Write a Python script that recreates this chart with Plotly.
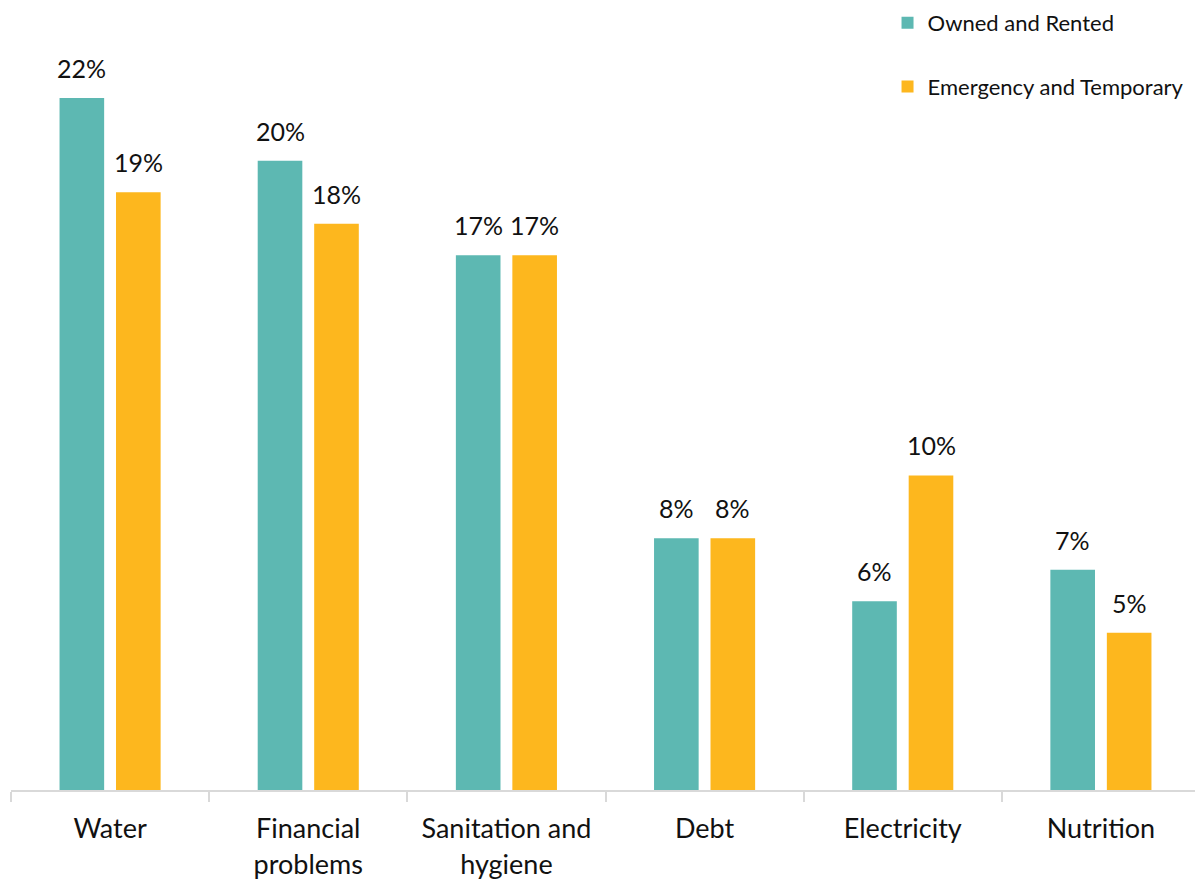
import plotly.graph_objects as go

categories = ["Water", "Financial<br>problems", "Sanitation and<br>hygiene", "Debt", "Electricity", "Nutrition"]
owned_rented = [22, 20, 17, 8, 6, 7]
emergency_temporary = [19, 18, 17, 8, 10, 5]
series_names = ["Owned and Rented", "Emergency and Temporary"]
colors = ["#5DB8B2", "#FDB71E"]

FONT = "Lato"
fig = go.Figure()
for name, vals, col, grp in zip(series_names, [owned_rented, emergency_temporary], colors, ["a", "b"]):
    fig.add_trace(go.Bar(x=categories, y=vals, name=name, marker_color=col,
                         marker_line_width=0, legendgroup=grp))

annotations = []
for vals, shift in [(owned_rented, -28.25), (emergency_temporary, 28.25)]:
    for c, v in zip(categories, vals):
        annotations.append(dict(x=c, y=v, text=f"{v}%", showarrow=False, xref="x", yref="y",
                                xshift=shift, yanchor="bottom", yshift=13,
                                font=dict(family=FONT, size=25, color="#111111")))

fig.update_layout(
    width=1195, height=878,
    margin=dict(l=3, r=3, t=27, b=96, autoexpand=False),
    paper_bgcolor="white", plot_bgcolor="white",
    barmode="group", bargap=0.43, bargroupgap=0.21,
    font=dict(family=FONT, size=25, color="#111111"),
    annotations=annotations,
    legend=dict(x=0.7372, xanchor="left", y=1.0437, yanchor="top", yref="paper",
                font=dict(family=FONT, size=22, color="#111111"),
                tracegroupgap=32, traceorder="grouped", bgcolor="rgba(0,0,0,0)"),
    xaxis=dict(showline=True, linecolor="#D9D9D9", linewidth=2, ticks="outside",
               tickson="boundaries", ticklen=10, tickcolor="#D9D9D9", tickwidth=2,
               ticklabelstandoff=14,
               tickfont=dict(family=FONT, size=27, color="#111111"), showgrid=False),
    yaxis=dict(range=[0, 24], visible=False, showgrid=False, zeroline=False),
)
fig.write_html("out.html")
